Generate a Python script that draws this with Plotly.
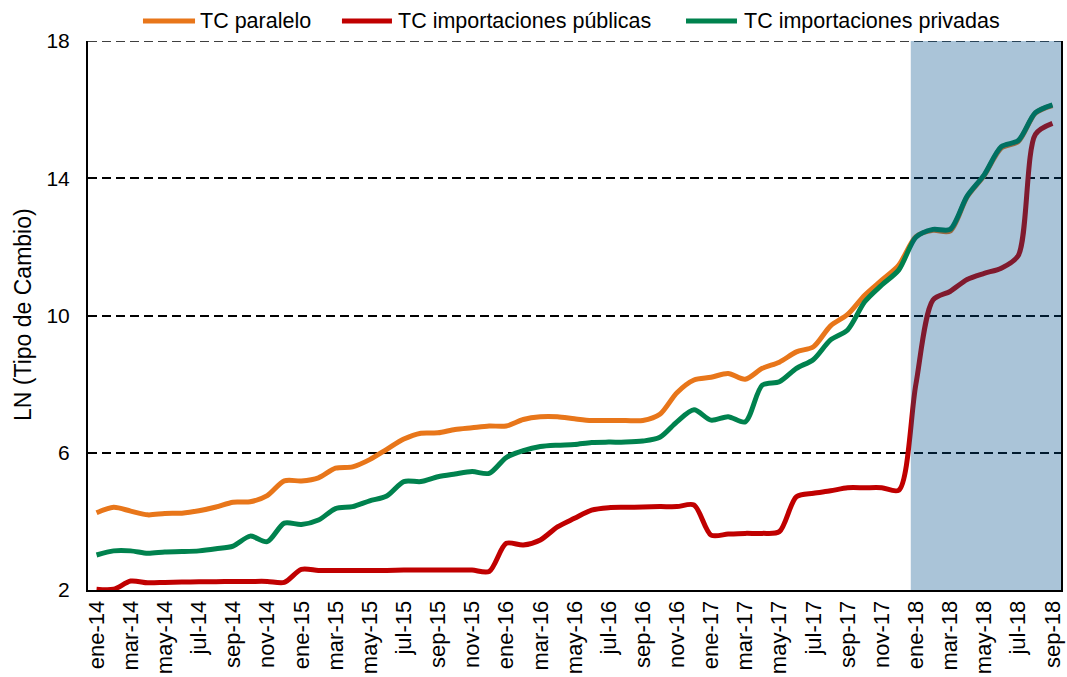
import plotly.graph_objects as go

meses = ["ene", "feb", "mar", "abr", "may", "jun", "jul", "ago", "sep", "oct", "nov", "dic"]
categorias = [f"{m}-{a}" for a in ["14", "15", "16", "17", "18"] for m in meses][:57]

tc_paralelo = [4.25, 4.41, 4.30, 4.19, 4.23, 4.24, 4.31, 4.42, 4.56, 4.57, 4.75, 5.18,
               5.18, 5.27, 5.55, 5.59, 5.80, 6.10, 6.40, 6.57, 6.58, 6.68, 6.73, 6.78,
               6.78, 6.97, 7.05, 7.05, 6.99, 6.94, 6.94, 6.94, 6.94, 7.12, 7.75, 8.12,
               8.20, 8.31, 8.14, 8.46, 8.64, 8.94, 9.09, 9.70, 10.03, 10.59, 11.03, 11.47,
               12.30, 12.48, 12.46, 13.46, 14.08, 14.88, 15.07, 15.90, 16.12]

tc_publicas = [2.02, 2.02, 2.26, 2.21, 2.22, 2.23, 2.24, 2.24, 2.25, 2.25, 2.25, 2.22,
               2.60, 2.57, 2.57, 2.57, 2.57, 2.57, 2.58, 2.58, 2.58, 2.58, 2.58, 2.54,
               3.36, 3.31, 3.46, 3.84, 4.09, 4.33, 4.40, 4.41, 4.42, 4.43, 4.43, 4.48,
               3.60, 3.63, 3.65, 3.65, 3.70, 4.72, 4.82, 4.89, 4.98, 4.98, 4.98, 4.91,
               8.00, 10.45, 10.70, 11.05, 11.23, 11.38, 11.75, 15.28, 15.60]

tc_privadas = [3.02, 3.14, 3.14, 3.07, 3.11, 3.12, 3.14, 3.20, 3.28, 3.57, 3.41, 3.95,
               3.91, 4.04, 4.37, 4.43, 4.60, 4.74, 5.16, 5.16, 5.30, 5.38, 5.45, 5.40,
               5.86, 6.06, 6.18, 6.22, 6.24, 6.30, 6.31, 6.31, 6.34, 6.45, 6.90, 7.25,
               6.95, 7.05, 6.90, 7.97, 8.07, 8.46, 8.72, 9.29, 9.58, 10.40, 10.89, 11.33,
               12.28, 12.51, 12.51, 13.48, 14.10, 14.92, 15.10, 15.91, 16.14]

nombres = ["TC paralelo", "TC importaciones públicas", "TC importaciones privadas"]
colores = ["#E8761A", "#C00000", "#00824E"]
valores_series = [tc_paralelo, tc_publicas, tc_privadas]

fig = go.Figure()
for nombre, valores, color in zip(nombres, valores_series, colores):
    fig.add_trace(go.Scatter(
        x=categorias, y=valores, name=nombre, mode="lines",
        line=dict(color=color, width=5, shape="spline", smoothing=0.8),
        showlegend=False,
    ))

# top gridline at 18 (plotly hides gridlines at the range edge)
fig.add_shape(type="line", xref="paper", yref="y", x0=0, x1=1, y0=18, y1=18,
              line=dict(color="black", width=1.5, dash="9px,5px"), layer="below")

# shaded period
fig.add_shape(type="rect", xref="x", yref="y", x0=47.7, x1=56.5, y0=2, y1=18,
              fillcolor="rgba(0,78,138,0.335)", line=dict(width=0), layer="above")

# custom legend (longer line symbols, wider spacing as in the reference)
leg_y = 1.0364
leg_items = [(0.0565, 0.1100, 0.1131), (0.2610, 0.3124, 0.3165), (0.6146, 0.6670, 0.6721)]
for (x0, x1, xt), nombre, color in zip(leg_items, nombres, colores):
    fig.add_shape(type="line", xref="paper", yref="paper", x0=x0, x1=x1, y0=leg_y, y1=leg_y,
                  line=dict(color=color, width=5), layer="above")
    fig.add_annotation(xref="paper", yref="paper", x=xt, y=leg_y, text=nombre,
                       showarrow=False, xanchor="left", yanchor="middle",
                       font=dict(size=21.5, color="black"))

# y-axis title
fig.add_annotation(xref="paper", yref="paper", x=-0.0668, y=0.501,
                   text="LN (Tipo de Cambio)", textangle=-90, showarrow=False,
                   xanchor="center", yanchor="middle", font=dict(size=23, color="black"))

fig.update_layout(
    width=1067, height=677,
    margin=dict(l=88, r=6, t=41, b=87, autoexpand=False),
    paper_bgcolor="white", plot_bgcolor="white",
    font=dict(family="Liberation Sans, Arial, sans-serif", color="black", size=21),
    showlegend=False,
)

fig.update_xaxes(
    type="category", range=[-0.5, 56.5],
    tickmode="array", tickvals=categorias[::2], ticktext=categorias[::2],
    tickangle=-90, tickfont=dict(size=22),
    showline=True, linecolor="black", linewidth=2,
    showgrid=False, ticks="",
)
fig.update_yaxes(
    range=[2, 18], tickvals=[2, 6, 10, 14, 18], tickfont=dict(size=21),
    showline=True, linecolor="black", linewidth=2, mirror=True,
    showgrid=True, gridcolor="black", gridwidth=1.5, griddash="9px,5px",
    zeroline=False, ticks="", ticklabelstandoff=12,
)

fig.write_html("out.html", config={"displayModeBar": False},
               post_script="document.body.style.margin='0';")
